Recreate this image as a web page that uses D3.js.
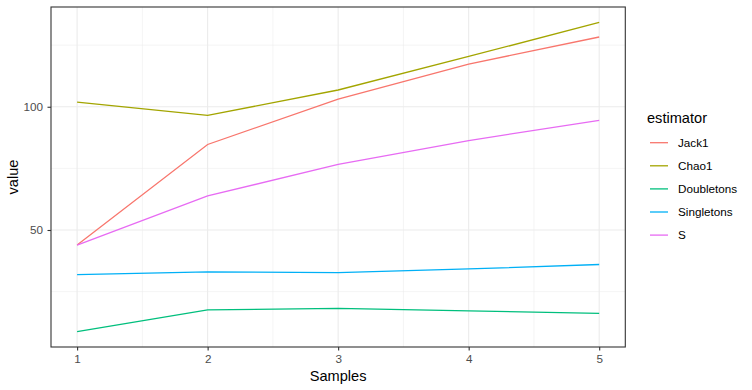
<!DOCTYPE html>
<html>
<head>
<meta charset="utf-8">
<script src="https://cdn.jsdelivr.net/npm/d3@7"></script>
<style>
  body { margin: 0; background: #fff; }
  svg { font-family: "Liberation Sans", Arial, Helvetica, sans-serif; }
</style>
</head>
<body>
<div id="chart"></div>
<script>
// chart data
const samples = [1, 2, 3, 4, 5];
const estimators = ["Jack1", "Chao1", "Doubletons", "Singletons", "S"];
const colors = ["#F8766D", "#A3A500", "#00BF7D", "#00B0F6", "#E76BF3"];
const jack1 = [43.9, 84.7, 103.1, 117.3, 128.3];
const chao1 = [101.9, 96.5, 106.8, 120.4, 134.2];
const doubletons = [8.8, 17.6, 18.2, 17.2, 16.2];
const singletons = [31.9, 33.0, 32.7, 34.2, 36.0];
const sObs = [43.9, 63.8, 76.6, 86.3, 94.5];
const yTicks = [50, 100];
const yMinor = [25, 75, 125];
const xMinor = [1.5, 2.5, 3.5, 4.5];

const seriesValues = [jack1, chao1, doubletons, singletons, sObs];
const series = estimators.map((name, i) => ({
    name: name,
    color: colors[i],
    values: samples.map((s, j) => ({ x: s, y: seriesValues[i][j] }))
}));

const width = 752, height = 390;
const panel = { left: 51, top: 7, right: 625.3, bottom: 347 };

const svg = d3.select("#chart").append("svg")
    .attr("width", width)
    .attr("height", height);

// scales with ggplot-style 5% expansion
const allY = seriesValues.flat();
const yMin = d3.min(allY), yMax = d3.max(allY);
const yPad = (yMax - yMin) * 0.05;
const x = d3.scaleLinear().domain([0.8, 5.2]).range([panel.left, panel.right]);
const y = d3.scaleLinear().domain([yMin - yPad, yMax + yPad]).range([panel.bottom, panel.top]);

// grid
const grid = svg.append("g");
grid.selectAll(".ymin").data(yMinor).enter().append("line")
    .attr("x1", panel.left).attr("x2", panel.right)
    .attr("y1", d => y(d)).attr("y2", d => y(d))
    .attr("stroke", "#EBEBEB").attr("stroke-width", 0.55);
grid.selectAll(".xmin").data(xMinor).enter().append("line")
    .attr("y1", panel.top).attr("y2", panel.bottom)
    .attr("x1", d => x(d)).attr("x2", d => x(d))
    .attr("stroke", "#EBEBEB").attr("stroke-width", 0.55);
grid.selectAll(".ymaj").data(yTicks).enter().append("line")
    .attr("x1", panel.left).attr("x2", panel.right)
    .attr("y1", d => y(d)).attr("y2", d => y(d))
    .attr("stroke", "#EBEBEB").attr("stroke-width", 1.1);
grid.selectAll(".xmaj").data(samples).enter().append("line")
    .attr("y1", panel.top).attr("y2", panel.bottom)
    .attr("x1", d => x(d)).attr("x2", d => x(d))
    .attr("stroke", "#EBEBEB").attr("stroke-width", 1.1);

// lines
const line = d3.line().x(d => x(d.x)).y(d => y(d.y));
svg.append("g").selectAll("path")
    .data(series)
    .enter().append("path")
    .attr("d", d => line(d.values))
    .attr("fill", "none")
    .attr("stroke", d => d.color)
    .attr("stroke-width", 1.3);

// panel border
svg.append("rect")
    .attr("x", panel.left).attr("y", panel.top)
    .attr("width", panel.right - panel.left)
    .attr("height", panel.bottom - panel.top)
    .attr("fill", "none")
    .attr("stroke", "#333333")
    .attr("stroke-width", 1.1);

// axes
const xAxis = svg.append("g")
    .attr("transform", `translate(0,${panel.bottom})`)
    .call(d3.axisBottom(x).tickValues(samples).tickFormat(d3.format("d")).tickSize(3.5).tickPadding(4));
const yAxis = svg.append("g")
    .attr("transform", `translate(${panel.left},0)`)
    .call(d3.axisLeft(y).tickValues(yTicks).tickSize(3.5).tickPadding(4.5));
[xAxis, yAxis].forEach(a => {
    a.select(".domain").remove();
    a.selectAll("line").attr("stroke", "#333333").attr("stroke-width", 1.1);
    a.selectAll("text").attr("fill", "#4D4D4D").style("font-size", "11.7px")
        .style("font-family", "'Liberation Sans', Arial, sans-serif");
});

// axis titles
svg.append("text")
    .attr("x", (panel.left + panel.right) / 2)
    .attr("y", 381)
    .attr("text-anchor", "middle")
    .style("font-size", "14.6px")
    .text("Samples");
svg.append("text")
    .attr("transform", `translate(18,${(panel.top + panel.bottom) / 2}) rotate(-90)`)
    .attr("text-anchor", "middle")
    .style("font-size", "14.6px")
    .text("value");

// legend
const legend = svg.append("g");
legend.append("text")
    .attr("x", 647)
    .attr("y", 123)
    .style("font-size", "14.6px")
    .text("estimator");
const items = legend.selectAll(".item")
    .data(series)
    .enter().append("g")
    .attr("transform", (d, i) => `translate(0,${142.7 + i * 23.1})`);
items.append("line")
    .attr("x1", 650).attr("x2", 668)
    .attr("stroke", d => d.color)
    .attr("stroke-width", 1.3);
items.append("text")
    .attr("x", 678)
    .attr("dy", "0.35em")
    .style("font-size", "11.7px")
    .text(d => d.name);
</script>
</body>
</html>
